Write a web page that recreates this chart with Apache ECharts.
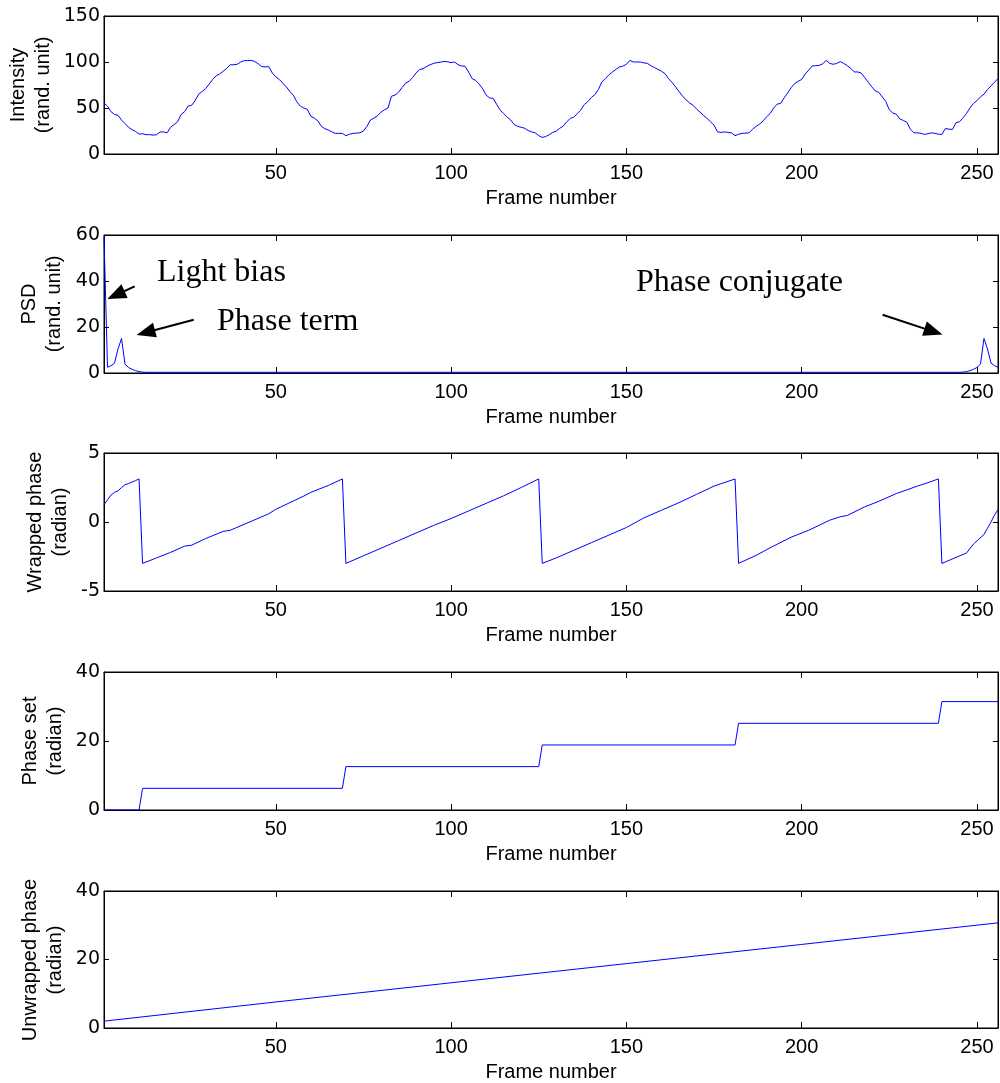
<!DOCTYPE html>
<html><head><meta charset="utf-8">
<script src="https://cdn.jsdelivr.net/npm/echarts@6/dist/echarts.min.js"></script>
<style>html,body{margin:0;padding:0;background:#fff}#c{width:1000px;height:1083px}</style>
</head><body><div id="c"></div>
<script>
// ---------- data ----------
const xTickValues = [50, 100, 150, 200, 250];

// intensity for frames 1..256
const intensity = [
 55.6,52,46,43,42,37,33,29,26.5,24.5,
 21.7,22,21,21,20.5,21,24,24,23,29,
 32,35,43,46,52,53,58,65,68,71,
 76,81,85,87,90,93,97,97,97.5,100,
 101.5,101.5,101.8,100.5,98,95,94.6,95,88,83.8,
 81,77,73,68,64,56.7,52,50,48.5,41,
 39,36,30,27.5,26,24,22.4,22.5,22.4,19.9,
 21.5,22.4,22.8,23,25,30,37,39,41.5,45.5,
 48,50,62.8,64,67,72.2,77,79,83,88,
 91.7,92.8,95,97,98.5,99.3,99.8,100.7,100.2,99.3,
 100,97,95.7,95.3,89,82,80,76,71,64,
 61,60.4,54,47.7,44,40,37,32,30,29,
 28,25.5,24,23,20,18,19,21,23.5,25,
 28,30.3,35,38.7,40,44,47.7,53.8,57,61.4,
 64.5,70,78.3,82,86,89,92,94.6,95.5,97.5,
 101.8,100,100,100,99,98.5,96,93.9,92,90,
 87.4,82,78,73,68,63,59,55.6,53,49,
 45.5,42,38.7,35,31.4,24,23.5,24,23.5,23,
 19.9,21.5,22.4,22.7,23,27,30,32.5,36,40.4,
 44,50,54.2,55,61,66.4,72,76.6,79,81,
 87,91,95.7,96,96.4,98,101.8,98.5,97.5,98.5,
 100.4,98.5,96,93,89.2,89.2,88,83,78,73,
 68.6,67,62,57,48,44.5,43.3,38,36.5,34.5,
 27,23,23,22.5,21.3,22,23,22.5,21.5,21.3,
 27.8,27,26.7,34,35,39,44,50,55,58,
 62,65,70,74,78,82
];

// PSD [frame, value]
const psd = [
 [1,59],[2,2.5],[3,3.2],[4,4.3],[5,10.5],[6,15],[7,3.8],[8,2.4],[9,1.6],[10,1.0],
 [11,0.6],[12,0.4],[13,0.3],[245,0.3],[246,0.4],[247,0.6],[248,1.0],[249,1.6],
 [250,2.4],[251,3.8],[252,15],[253,10.5],[254,4.3],[255,3.2],[256,2.5]
];

// wrapped phase [frame, radian]
const wrappedPhase = [
 [1,1.26],[2,1.6],[3,1.95],[4,2.15],[5,2.25],[6,2.5],[7,2.7],[8,2.78],[9,2.9],[10,3.0],[11,3.12],
 [12,-3.0],[16,-2.6],[20,-2.2],[24,-1.75],[26,-1.68],[30,-1.2],[35,-0.68],[37,-0.6],
 [43,0.05],[48,0.6],[50,0.92],[55,1.52],[58,1.88],[60,2.15],[65,2.65],[69,3.12],
 [70,-3.0],[75,-2.45],[80,-1.9],[85,-1.35],[90,-0.8],[95,-0.25],[100,0.25],[105,0.8],
 [110,1.35],[115,1.9],[120,2.5],[125,3.12],
 [126,-3.0],[130,-2.6],[135,-2.05],[140,-1.5],[145,-0.95],[150,-0.4],[155,0.3],[160,0.85],
 [165,1.4],[170,2.0],[175,2.6],[181,3.12],
 [182,-3.0],[187,-2.42],[191,-1.87],[197,-1.1],[202,-0.6],[208,0.13],[211,0.38],[213,0.47],
 [218,1.1],[222,1.5],[227,2.06],[233,2.6],[236,2.85],[239,3.12],
 [240,-3.0],[246,-2.35],[247,-2.25],[249,-1.6],[252,-0.9],[253,-0.45],[254,0.0],[255,0.5],[256,0.9]
];

// phase set [frame, radian]
const phaseSet = [
 [1,0],[11,0],[12,6.28],[69,6.28],[70,12.57],[125,12.57],[126,18.85],[181,18.85],
 [182,25.13],[239,25.13],[240,31.42],[256,31.42]
];

// unwrapped phase [frame, radian]
const unwrappedPhase = [[1,2.0],[50,7.6],[100,13.2],[150,18.8],[200,24.4],[256,30.7]];

const yTitles = ['Intensity\n(rand. unit)', 'PSD\n(rand. unit)', 'Wrapped phase\n(radian)', 'Phase set\n(radian)', 'Unwrapped phase\n(radian)'];
const yRanges = [[0,150,50],[0,60,20],[-5,5,5],[0,40,20],[0,40,20]];
const xTitle = 'Frame number';

// PSD annotation arrows, [tail, head] in data coordinates of panel 2
const arrows = [
 [[9.76,37.65],[4.4,33.9]],
 [[26.59,23.17],[12.9,17.6]],
 [[223.08,25.35],[237.6,18.0]]
];
const annotationTexts = ['Light bias', 'Phase term', 'Phase conjugate'];

// ---------- layout ----------
const gridTops = [16, 235, 453, 672, 891];
const gridH = 138, gridL = 104, gridW = 894;
const titleX = [31, 42, 47.5, 43, 43];
const annoPos = [[157,273],[217,322],[636,283]];

const seriesData = [
  intensity.map((v, i) => [i + 1, v]),
  psd, wrappedPhase, phaseSet, unwrappedPhase
];

const grids = [], xAxes = [], yAxes = [], series = [], graphics = [];
const black = '#000';
for (let i = 0; i < 5; i++) {
  grids.push({left: gridL, top: gridTops[i], width: gridW, height: gridH,
    show: true, borderColor: black, borderWidth: 1, backgroundColor: '#fff'});
  const xBase = {gridIndex: i, type: 'value', min: 1, max: 256,
    splitLine: {show: false},
    axisLine: {show: true, onZero: false, lineStyle: {color: black, width: 1}},
    axisTick: {show: true, inside: true, length: 6, customValues: xTickValues, lineStyle: {color: black}}};
  xAxes.push(Object.assign({}, xBase, {position: 'bottom',
    axisLabel: {show: true, customValues: xTickValues, margin: 9, color: black, fontSize: 20, fontFamily: 'Liberation Sans'},
    name: xTitle, nameLocation: 'middle', nameGap: 34,
    nameTextStyle: {color: black, fontSize: 20, fontFamily: 'Liberation Sans'}}));
  xAxes.push(Object.assign({}, xBase, {position: 'top', axisLabel: {show: false}}));
  const r = yRanges[i];
  const yBase = {gridIndex: i, type: 'value', min: r[0], max: r[1], interval: r[2],
    splitLine: {show: false},
    axisLine: {show: true, onZero: false, lineStyle: {color: black, width: 1}},
    axisTick: {show: true, inside: true, length: 5, lineStyle: {color: black}}};
  yAxes.push(Object.assign({}, yBase, {position: 'left',
    axisLabel: {show: true, margin: 4, color: black, fontSize: 19, fontFamily: 'DejaVu Sans'}}));
  yAxes.push(Object.assign({}, yBase, {position: 'right', axisLabel: {show: false}}));
  const s = {type: 'line', xAxisIndex: 2 * i, yAxisIndex: 2 * i, data: seriesData[i],
    showSymbol: false, symbol: 'none', animation: false, silent: true,
    lineStyle: {color: '#0000ff', width: 1}};
  if (i === 1) {
    s.markLine = {silent: true, animation: false, symbol: ['none', 'triangle'],
      symbolSize: [15, 19],
      itemStyle: {color: black},
      label: {show: false}, lineStyle: {color: black, width: 2, type: 'solid'},
      emphasis: {disabled: true},
      data: arrows.map(a => [{coord: a[0]}, {coord: a[1]}])};
  }
  series.push(s);
  graphics.push({type: 'text', x: titleX[i], y: gridTops[i] + gridH / 2, rotation: Math.PI / 2,
    style: {text: yTitles[i], fill: black, font: '20px "Liberation Sans"', align: 'center', verticalAlign: 'middle', lineHeight: 25}});
}
annotationTexts.forEach((t, k) => {
  graphics.push({type: 'text', x: annoPos[k][0], y: annoPos[k][1],
    style: {text: t, fill: black, font: '32px "Liberation Serif"', align: 'left', verticalAlign: 'middle'}});
});

const chart = echarts.init(document.getElementById('c'), null, {renderer: 'canvas'});
chart.setOption({
  animation: false,
  backgroundColor: '#fff',
  grid: grids, xAxis: xAxes, yAxis: yAxes, series: series, graphic: graphics
});
</script></body></html>
